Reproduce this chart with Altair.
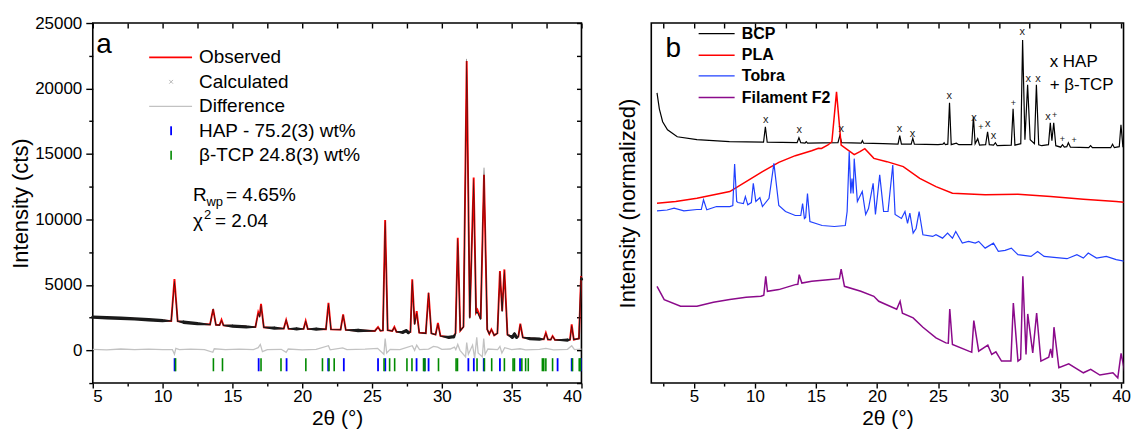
import altair as alt
import pandas as pd

FONT = "Liberation Sans"

# ===================== Panel a : Rietveld refinement =====================
a_observed = [
    (5.0, 2540), (6.0, 2500), (7.0, 2460), (8.0, 2400), (9.0, 2340), (10.0, 2270),
    (10.62, 2240), (10.85, 5450), (11.08, 2220), (11.5, 2150), (12.5, 2040),
    (13.4, 1970), (13.62, 3150), (13.82, 1950), (14.08, 1930), (14.22, 2330),
    (14.36, 1910), (15.0, 1860), (16.0, 1800), (16.65, 1780), (16.85, 2900),
    (16.95, 2600), (17.05, 3550), (17.25, 1760), (18.0, 1700), (18.68, 1660),
    (18.85, 2310), (19.02, 1650), (19.6, 1640), (20.1, 1640), (20.25, 2240),
    (20.4, 1630), (21.0, 1620), (21.7, 1610), (21.88, 3630), (22.06, 1600),
    (22.75, 1580), (22.93, 2750), (23.12, 1560), (24.0, 1520), (25.2, 1480),
    (25.43, 1780), (25.6, 1500), (25.78, 1520), (25.94, 9950), (26.12, 1540),
    (26.45, 1480), (26.6, 1780), (26.75, 1420), (27.2, 1380), (27.45, 1520),
    (27.6, 1360), (27.75, 1400), (27.88, 5420), (28.05, 2000), (28.2, 3000),
    (28.38, 1350), (28.85, 1300), (29.05, 4400), (29.25, 1300), (29.55, 1200),
    (29.72, 2100), (29.9, 1100), (30.5, 1000), (30.85, 1050), (30.98, 1300),
    (31.14, 8600), (31.32, 1500), (31.55, 1800), (31.78, 22100), (32.0, 2500),
    (32.28, 13200), (32.45, 2900), (32.55, 3100), (32.78, 2400), (33.02, 13400),
    (33.25, 1600), (33.4, 1250), (33.55, 1600), (33.75, 1150), (33.98, 1300),
    (34.16, 6050), (34.32, 3000), (34.48, 6180), (34.7, 1200), (35.05, 1000),
    (35.2, 1250), (35.35, 1000), (35.48, 1050), (35.62, 2030), (35.8, 980),
    (36.3, 900), (37.0, 860), (37.3, 850), (37.45, 1340), (37.6, 830), (37.8, 820),
    (37.93, 1090), (38.1, 800), (39.0, 790), (39.18, 820), (39.3, 1980),
    (39.45, 820), (39.82, 900), (39.97, 5670), (40.0, 5500),
]
a_calculated = [
    (5.0, 2530), (6.0, 2490), (7.0, 2450), (8.0, 2395), (9.0, 2335), (10.0, 2265),
    (10.62, 2235), (10.85, 5300), (11.08, 2215), (11.5, 2145), (12.5, 2035),
    (13.4, 1965), (13.62, 3200), (13.82, 1945), (14.08, 1925), (14.22, 2300),
    (14.36, 1905), (15.0, 1855), (16.0, 1795), (16.65, 1775), (16.85, 2850),
    (16.95, 2550), (17.05, 3450), (17.25, 1755), (18.0, 1695), (18.68, 1655),
    (18.85, 2350), (19.02, 1645), (19.6, 1635), (20.1, 1635), (20.25, 2250),
    (20.4, 1625), (21.0, 1615), (21.7, 1605), (21.88, 3550), (22.06, 1595),
    (22.75, 1575), (22.93, 2700), (23.12, 1555), (24.0, 1515), (25.2, 1475),
    (25.43, 1750), (25.6, 1495), (25.78, 1515), (25.94, 9850), (26.12, 1535),
    (26.45, 1475), (26.6, 1760), (26.75, 1415), (27.2, 1375), (27.45, 1500),
    (27.6, 1355), (27.75, 1395), (27.88, 5350), (28.05, 1990), (28.2, 2850),
    (28.38, 1345), (28.85, 1295), (29.05, 4420), (29.25, 1295), (29.55, 1195),
    (29.72, 2000), (29.9, 1095), (30.5, 995), (30.85, 1040), (30.98, 1290),
    (31.14, 8500), (31.32, 1495), (31.55, 1790), (31.78, 22250), (32.0, 2480),
    (32.28, 13050), (32.45, 2850), (32.55, 2900), (32.78, 2380), (33.02, 13950),
    (33.25, 1590), (33.4, 1245), (33.55, 1590), (33.75, 1145), (33.98, 1295),
    (34.16, 6000), (34.32, 2990), (34.48, 6100), (34.7, 1195), (35.05, 995),
    (35.2, 1240), (35.35, 995), (35.48, 1045), (35.62, 2000), (35.8, 975),
    (36.3, 895), (37.0, 855), (37.3, 845), (37.45, 1320), (37.6, 825), (37.8, 815),
    (37.93, 1080), (38.1, 795), (39.0, 785), (39.18, 815), (39.3, 1900),
    (39.45, 815), (39.82, 895), (39.97, 5600), (40.0, 5450),
]
a_difference = [
    (5.0, 80), (6.0, 40), (7.0, 100), (8.0, 50), (9.0, 90), (10.0, 60), (10.7, 60),
    (10.85, -300), (10.95, 150), (11.2, 50), (12.0, 90), (13.0, 50), (13.6, -150),
    (13.7, 120), (14.5, 60), (15.5, 90), (16.5, 50), (16.85, 200), (17.0, 450),
    (17.15, -100), (17.5, 60), (18.5, 80), (18.85, -150), (19.0, 100), (20.0, 40),
    (21.0, 80), (21.88, 350), (22.0, 40), (22.9, 180), (23.2, 50), (24.5, 90),
    (25.4, 150), (25.85, -300), (25.94, 900), (26.05, -200), (26.3, 80), (27.0, 60),
    (27.88, 350), (28.05, 0), (28.2, 400), (28.4, 50), (29.05, 100), (29.4, 300),
    (29.7, 250), (30.0, 80), (30.6, 100), (30.9, 250), (31.0, 50), (31.14, 450),
    (31.3, 0), (31.7, -500), (31.78, 600), (31.9, -300), (32.2, 400), (32.35, -600),
    (32.5, 1000), (32.6, -200), (32.9, -500), (33.0, 900), (33.1, -300), (33.3, 100),
    (34.0, 50), (34.16, 300), (34.3, -200), (34.5, 200), (35.0, 60), (35.6, 120),
    (36.0, 40), (37.0, 80), (37.45, 150), (38.0, 40), (39.0, 80), (39.3, 350),
    (39.5, 50), (40.0, 100),
]
a_hap_reflections = [10.86, 16.88, 18.88, 21.86, 22.98, 25.43, 25.95, 28.19, 28.76,
                     29.05, 31.9, 32.29, 33.0, 34.16, 35.6, 38.29, 39.3, 39.95]
a_tcp_reflections = [10.93, 13.64, 14.29, 17.05, 18.48, 20.26, 21.45, 21.92, 22.29,
                     25.86, 26.26, 26.62, 27.5, 27.86, 28.69, 28.79, 29.76, 31.02,
                     31.12, 32.52, 33.05, 33.57, 34.48, 35.1, 35.2, 35.73, 36.0,
                     36.19, 37.2, 37.3, 37.45, 37.93, 39.36, 39.84, 39.92]
a_xticks = [5, 7.5, 10, 12.5, 15, 17.5, 20, 22.5, 25, 27.5, 30, 32.5, 35, 37.5, 40]
a_yticks = [-2500, 0, 2500, 5000, 7500, 10000, 12500, 15000, 17500, 20000, 22500, 25000]
a_legend_labels = ["Observed", "Calculated", "Difference",
                   "HAP - 75.2(3) wt%", "β-TCP 24.8(3) wt%"]

# ===================== Panel b : normalized patterns =====================
b_bcp = [
    (1.97, 291), (2.16, 275), (2.43, 262), (2.83, 254), (3.63, 247), (5.24, 244),
    (7.9, 242), (10.7, 241.5), (10.85, 257), (11.0, 241.5), (13.45, 241), (13.6, 246),
    (13.75, 241), (14.1, 240.5), (14.2, 242), (14.3, 240.5), (16.8, 241), (16.95, 248),
    (17.1, 241), (18.7, 240.5), (18.8, 243), (18.9, 240.5), (20.5, 240), (21.72, 239.5),
    (21.86, 248), (22.0, 239.5), (22.8, 239.5), (22.93, 245.5), (23.06, 239.5),
    (25.0, 239), (25.4, 239.5), (25.5, 241), (25.6, 239), (25.8, 239.5), (25.94, 281),
    (26.08, 239), (26.5, 240.5), (26.7, 239), (27.76, 239), (27.9, 267), (28.04, 240),
    (28.25, 245), (28.4, 238.5), (28.9, 239), (29.06, 252), (29.2, 239), (29.55, 238.5),
    (29.7, 241), (29.85, 238), (31.0, 238.5), (31.15, 275), (31.3, 238.5), (31.78, 240),
    (31.93, 344), (32.12, 244), (32.34, 299), (32.55, 244), (32.9, 240), (33.06, 299),
    (33.25, 239), (33.5, 238), (34.05, 239), (34.2, 261), (34.33, 243), (34.48, 261),
    (34.65, 238), (35.05, 236.5), (35.2, 239), (35.35, 236.5), (35.55, 237),
    (35.68, 241), (35.85, 236.5), (37.35, 236), (37.5, 238), (37.65, 236),
    (39.15, 236), (39.3, 239.5), (39.45, 236), (39.85, 237), (39.99, 259),
    (40.15, 237), (40.45, 236),
]
b_pla = [
    (1.97, 180.3), (3.5, 182), (5.24, 185.3), (7.93, 192), (9.27, 202), (10.61, 212),
    (11.95, 221.3), (13.3, 228), (14.64, 233), (15.2, 235.5), (15.45, 235.3),
    (15.98, 238.7), (16.3, 242), (16.68, 292), (17.06, 238.7), (18.13, 229),
    (18.6, 232), (19.0, 235), (19.74, 225.3), (20.81, 222), (22.15, 217),
    (23.5, 205.3), (24.83, 197), (26.18, 190.3), (28.86, 188.7), (31.55, 189.3),
    (34.23, 187), (36.91, 184.3), (39.6, 182), (40.45, 181),
]
b_tobra = [
    (1.97, 172.7), (2.8, 173.5), (3.37, 175.3), (4.17, 172.7), (5.24, 174), (5.6, 174),
    (5.78, 183.7), (6.05, 173.7), (6.85, 177), (7.93, 177), (8.18, 178), (8.33, 219.7),
    (8.5, 182), (8.6, 181), (9.05, 180), (9.21, 187), (9.41, 178.7), (9.7, 181),
    (9.86, 200.3), (10.07, 182), (10.4, 186), (10.61, 177), (11.15, 185.3),
    (11.55, 220.3), (11.95, 178), (12.5, 172), (13.3, 168), (13.75, 168), (13.9, 180),
    (14.05, 165), (14.15, 166), (14.3, 190), (14.5, 162), (15.5, 158), (16.5, 157),
    (17.4, 158), (17.55, 172), (17.72, 232), (17.85, 190), (17.95, 205), (18.05, 190),
    (18.13, 225), (18.39, 182), (18.79, 192), (19.07, 169), (19.3, 175),
    (19.68, 200.3), (19.87, 169), (20.22, 208.7), (20.54, 172), (20.9, 172),
    (21.29, 218.7), (21.48, 169), (22.0, 165), (22.29, 172), (22.5, 160),
    (22.69, 170.3), (22.96, 150.3), (23.2, 155), (23.45, 172), (23.76, 148.7),
    (24.56, 147), (24.83, 148.7), (25.37, 145.3), (25.78, 150.3), (26.18, 145.3),
    (26.45, 152), (26.99, 140.3), (27.5, 142), (28.05, 140.3), (28.33, 142),
    (28.86, 135.3), (29.54, 140.3), (29.94, 132), (30.5, 133), (31.01, 135.3),
    (31.55, 128.7), (32.62, 127), (33.16, 132), (33.69, 127), (34.5, 126),
    (35.57, 124.7), (36.38, 128.7), (36.91, 125.3), (37.31, 130.3), (37.99, 125.3),
    (38.79, 127), (39.6, 123.7), (40.4, 122),
]
b_filament = [
    (1.97, 97), (2.56, 83.7), (3.9, 77), (5.24, 77), (6.59, 81), (7.93, 83.7),
    (9.27, 86), (10.48, 87), (10.72, 88), (10.88, 107), (11.02, 92), (11.95, 93.7),
    (13.3, 98.7), (13.51, 99), (13.62, 108.7), (13.84, 100.3), (14.64, 102),
    (15.98, 103.7), (16.92, 104.7), (17.06, 114.3), (17.33, 97), (18.67, 92),
    (19.74, 87), (20.14, 82), (21.61, 74), (21.89, 82), (22.08, 70), (22.96, 65.3),
    (23.76, 56), (24.83, 45.3), (25.64, 40.3), (25.84, 40), (25.96, 74.3),
    (26.18, 38.7), (27.52, 32), (27.76, 31), (27.93, 62.7), (28.33, 32), (29.08, 38),
    (29.4, 28.7), (29.74, 31.3), (30.2, 22), (30.97, 22), (31.17, 80.3), (31.55, 22),
    (31.77, 24), (31.95, 107), (32.21, 28.7), (32.35, 69.3), (32.76, 30.3),
    (33.08, 70.3), (33.43, 22), (34.07, 26), (34.23, 34.3), (34.37, 25.3),
    (34.5, 56), (34.9, 15.3), (35.71, 19.3), (36.91, 10.3), (37.51, 13.7),
    (38.26, 8), (39.33, 10.3), (39.73, 5.3), (40.0, 29.7), (40.4, 5.3),
]
b_hap_marks = [(10.88, 264), (13.62, 254), (17.06, 255), (21.83, 255), (22.9, 250),
               (25.91, 288), (27.95, 266), (29.08, 260), (29.54, 248), (31.9, 352),
               (32.4, 305), (33.18, 305), (34.01, 267)]
b_tcp_marks = [(28.51, 257), (31.17, 281), (34.55, 269), (35.19, 245), (36.16, 244)]
b_xticks = [2.5, 5, 7.5, 10, 12.5, 15, 17.5, 20, 22.5, 25, 27.5, 30, 32.5, 35, 37.5, 40]
b_legend_labels = ["BCP", "PLA", "Tobra", "Filament F2"]
b_colors = ["#000000", "#ff0000", "#2040ff", "#8b0a8b"]

# ===================== helpers =====================
def xy(points):
    return pd.DataFrame(points, columns=["x", "y"])


xa = alt.Scale(domain=[5, 40], nice=False, zero=False)
ya = alt.Scale(domain=[-2500, 25000], nice=False, zero=False)
xb = alt.Scale(domain=[1.5, 40.2], nice=False, zero=False)
yb = alt.Scale(domain=[0, 361], nice=False, zero=False)


def enc(xs, ys, xaxis=None, yaxis=None):
    return dict(x=alt.X("x:Q", scale=xs, axis=xaxis),
                y=alt.Y("y:Q", scale=ys, axis=yaxis))


MAJ5 = "datum.value % 5 === 0"
ax_a_bottom = alt.Axis(orient="bottom", values=a_xticks, format="d",
                       labelExpr=f"{MAJ5} ? datum.label : ''",
                       tickSize={"expr": f"{MAJ5} ? 5 : 3"},
                       labelPadding=0, title="2θ (°)", titlePadding=4)
ax_a_left = alt.Axis(orient="left", values=a_yticks, format="d",
                     labelExpr="datum.value % 5000 === 0 ? datum.label : ''",
                     tickSize={"expr": "datum.value % 5000 === 0 ? 7 : 4"},
                     labelPadding=4, title="Intensity (cts)", titlePadding=2,
                     titleFontSize=22)
ax_a_top = alt.Axis(orient="top", values=a_xticks, labels=False, tickSize=5,
                    offset=-5, title=None)
ax_a_right = alt.Axis(orient="right", values=a_yticks, labels=False, tickSize=5,
                      offset=-5, title=None)

# ---------- panel a layers ----------
obs = alt.Chart(xy(a_observed)).mark_line(color="#ff0000", strokeWidth=1.9).encode(
    **enc(xa, ya, ax_a_bottom, ax_a_left))
# calculated pattern drawn as dense dark markers: thick on the background, thin on peaks
calc = alt.Chart(xy(a_calculated)).transform_window(
    prev="lag(y)", nxt="lead(y)", sort=[alt.SortField("x")]
).transform_calculate(
    up="datum.prev == null ? 0 : datum.y - datum.prev",
    down="datum.nxt == null ? 0 : datum.y - datum.nxt",
).transform_calculate(
    w="(datum.up > 250 && datum.down > 250) ? 0.4 : "
      "((abs(datum.up) > 250 || abs(datum.down) > 250) ? 1.1 : 3.3)"
).mark_trail(color="#1a1a1a").encode(
    **enc(xa, ya), size=alt.Size("w:Q", scale=None, legend=None))
diff = alt.Chart(xy(a_difference)).mark_line(color="#c2c2c2", strokeWidth=1.3).encode(
    **enc(xa, ya))
hap_df = pd.DataFrame({"x": a_hap_reflections, "y": -600, "y2": -1600})
tcp_df = pd.DataFrame({"x": a_tcp_reflections, "y": -600, "y2": -1600})
hap = alt.Chart(hap_df).mark_rule(color="#0000ff", strokeWidth=1.8).encode(
    **enc(xa, ya, ax_a_top, ax_a_right), y2="y2:Q")
tcp = alt.Chart(tcp_df).mark_rule(color="#008a00", strokeWidth=1.6).encode(
    **enc(xa, ya), y2="y2:Q")

# legend (panel a)
la_rows = [22379, 20510, 18640, 16771, 14902]
la_text = pd.DataFrame({"x": 12.61, "y": la_rows, "t": a_legend_labels})
la_obs = alt.Chart(pd.DataFrame({"x": [9.04], "x2": [12.11], "y": [la_rows[0]]})).mark_rule(
    color="#ff0000", strokeWidth=1.6).encode(**enc(xa, ya), x2="x2:Q")
la_diff = alt.Chart(pd.DataFrame({"x": [9.04], "x2": [12.11], "y": [la_rows[2]]})).mark_rule(
    color="#c2c2c2", strokeWidth=1.3).encode(**enc(xa, ya), x2="x2:Q")
la_calc = alt.Chart(pd.DataFrame({"x": [10.61], "y": [la_rows[1]]})).mark_point(
    shape="M-1,-1L1,1M-1,1L1,-1", size=14, color="#999999", filled=False,
    strokeWidth=1).encode(**enc(xa, ya))
la_hap = alt.Chart(pd.DataFrame({"x": [10.61], "y": [la_rows[3] + 340], "y2": [la_rows[3] - 340]})).mark_rule(
    color="#0000ff", strokeWidth=1.8).encode(**enc(xa, ya), y2="y2:Q")
la_tcp = alt.Chart(pd.DataFrame({"x": [10.61], "y": [la_rows[4] + 340], "y2": [la_rows[4] - 340]})).mark_rule(
    color="#008a00", strokeWidth=1.6).encode(**enc(xa, ya), y2="y2:Q")
la_txt = alt.Chart(la_text).mark_text(align="left", baseline="middle", font=FONT,
                                      fontSize=19, color="black").encode(
    **enc(xa, ya), text="t:N")


def txt(x, y, s, size, dx=0, dy=0, baseline="alphabetic", weight="normal", xs=xa, ys=ya):
    return alt.Chart(pd.DataFrame({"x": [x], "y": [y]})).mark_text(
        text=s, align="left", baseline=baseline, font=FONT, fontSize=size, dx=dx, dy=dy,
        fontWeight=weight, color="black").encode(**enc(xs, ys))


stats = [
    txt(12.18, 11391, "R", 19),
    txt(12.18, 11391, "wp", 13, dx=13.5, dy=5),
    txt(12.18, 11391, "= 4.65%", 19, dx=33),
    txt(12.18, 9400, "χ", 19),
    txt(12.18, 9400, "2", 13, dx=11, dy=-8),
    txt(12.18, 9400, "= 2.04", 19, dx=22),
    txt(5.25, 22684, "a", 28),
]

panel_a = alt.layer(obs, calc, diff, hap, tcp, la_obs, la_diff, la_calc, la_hap,
                    la_tcp, la_txt, *stats).resolve_axis(
    x="independent", y="independent").properties(width=490, height=361)

# ---------- panel b ----------
ax_b_bottom = alt.Axis(orient="bottom", values=b_xticks, format="d",
                       labelExpr=f"{MAJ5} ? datum.label : ''",
                       tickSize={"expr": f"{MAJ5} ? 5 : 3"}, labelFlush=True,
                       labelPadding=0, title="2θ (°)", titlePadding=4)
ax_b_left = alt.Axis(orient="left", labels=False, ticks=False, title="Intensity (normalized)",
                     titlePadding=12, titleFontSize=22)
ax_b_top = alt.Axis(orient="top", values=b_xticks, labels=False, tickSize=5, offset=-5,
                    title=None)

series_b = [b_bcp, b_pla, b_tobra, b_filament]
widths_b = [1.2, 1.5, 1.2, 1.5]
layers_b = []
for i, (pts, col, w) in enumerate(zip(series_b, b_colors, widths_b)):
    if i == 0:
        e = enc(xb, yb, ax_b_bottom, ax_b_left)
    elif i == 1:
        e = enc(xb, yb, ax_b_top, None)
    else:
        e = enc(xb, yb)
    layers_b.append(alt.Chart(xy(pts)).mark_line(color=col, strokeWidth=w, clip=True).encode(**e))

lb_rows = [350.3, 328.7, 308, 286.3]
for lab, col, w, yv in zip(b_legend_labels, b_colors, widths_b, lb_rows):
    layers_b.append(alt.Chart(pd.DataFrame({"x": [5.38], "x2": [8.33], "y": [yv]})).mark_rule(
        color=col, strokeWidth=w).encode(**enc(xb, yb), x2="x2:Q"))
lb_text = pd.DataFrame({"x": 8.92, "y": lb_rows, "t": b_legend_labels})
layers_b.append(alt.Chart(lb_text).mark_text(align="left", baseline="middle", font=FONT,
                                             fontSize=16, fontWeight="bold",
                                             color="black").encode(**enc(xb, yb), text="t:N"))
layers_b.append(alt.Chart(xy(b_hap_marks)).mark_text(text="x", align="center", baseline="middle",
                                                      font=FONT, fontSize=11, color="#222222").encode(**enc(xb, yb)))
layers_b.append(alt.Chart(xy(b_tcp_marks)).mark_text(text="+", align="center", baseline="middle",
                                                      font=FONT, fontSize=9, color="#222222").encode(**enc(xb, yb)))
layers_b.append(txt(34.15, 322, "x HAP", 17, baseline="middle", xs=xb, ys=yb))
layers_b.append(txt(34.15, 299, "+ β-TCP", 17, baseline="middle", xs=xb, ys=yb))
layers_b.append(txt(2.67, 327, "b", 28, xs=xb, ys=yb))

panel_b = alt.layer(*layers_b).resolve_axis(x="independent", y="independent").properties(
    width=473.5, height=361)

chart = alt.hconcat(panel_a, panel_b, spacing=70, bounds="flush").properties(
    padding={"left": 0, "top": 4.5, "right": 0, "bottom": 0}
).configure_axis(
    labelFont=FONT, titleFont=FONT, labelFontSize=17, titleFontSize=21,
    titleFontWeight="normal", labelColor="black", titleColor="black",
    tickColor="black", tickWidth=1.4, domain=False, grid=False
).configure_view(stroke="black", strokeWidth=1.6)

chart.save("out.html", embed_options={"renderer": "svg", "actions": False})
